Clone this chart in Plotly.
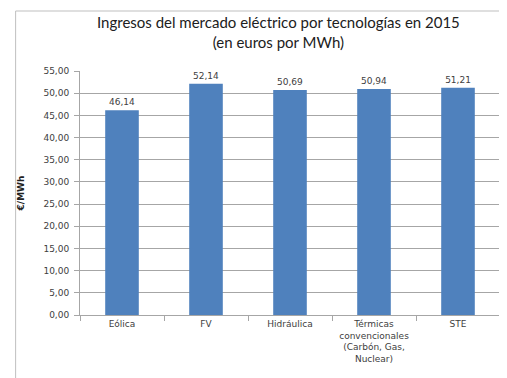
import plotly.graph_objects as go

categories = ["Eólica", "FV", "Hidráulica", "Térmicas<br>convencionales<br>(Carbón, Gas,<br>Nuclear)", "STE"]
values = [46.14, 52.14, 50.69, 50.94, 51.21]
y_ticks = [0, 5, 10, 15, 20, 25, 30, 35, 40, 45, 50, 55]

W, H = 507, 378
L, R, T, B = 68, 15, 63, 71
pw = W - L - R
ph = H - T - B

fig = go.Figure(go.Bar(
    x=categories, y=values,
    marker=dict(color="#4F81BD", line=dict(width=0)),
    text=values, texttemplate="%{y:.2f}", textposition="outside",
    textfont=dict(family="DejaVu Sans", size=9, color="#404040"),
    cliponaxis=False, width=0.4,
))

fig.update_layout(
    width=W, height=H,
    margin=dict(l=L, r=R, t=T, b=B),
    paper_bgcolor="white", plot_bgcolor="white",
    separators=",.",
    showlegend=False,
    annotations=[
        dict(text="Ingresos del mercado eléctrico por tecnologías en 2015<br>(en euros por MWh)",
             xref="paper", yref="paper",
             x=(268 - L) / pw, y=(H - B - 3) / ph, xanchor="center", yanchor="top",
             showarrow=False, align="center",
             font=dict(family="Lato", size=15, color="#202020")),
    ],
    shapes=[dict(type="rect", xref="paper", yref="paper",
                 x0=(3 - L) / pw, x1=(502 - L) / pw,
                 y0=(H - B - 372) / ph, y1=(H - B - 3) / ph,
                 line=dict(color="#BFBFBF", width=1), fillcolor="rgba(0,0,0,0)", layer="below")],
)

fig.update_yaxes(
    range=[0, 55], tickvals=y_ticks, tickformat=".2f",
    showgrid=True, gridcolor="#A6A6A6", gridwidth=1,
    showline=True, linecolor="#A6A6A6", linewidth=1,
    ticks="outside", ticklen=5, tickcolor="#A6A6A6", ticklabelstandoff=3,
    tickfont=dict(family="DejaVu Sans", size=9, color="#404040"),
    title=dict(text="<b>€/MWh</b>", font=dict(family="DejaVu Sans", size=9, color="#202020"), standoff=17),
    zeroline=False,
)
fig.update_xaxes(
    showline=True, linecolor="#A6A6A6", linewidth=1,
    ticks="outside", ticklen=5, tickcolor="#A6A6A6", tickson="boundaries",
    tickfont=dict(family="DejaVu Sans", size=9, color="#404040"),
)

fig.write_html("out.html")
